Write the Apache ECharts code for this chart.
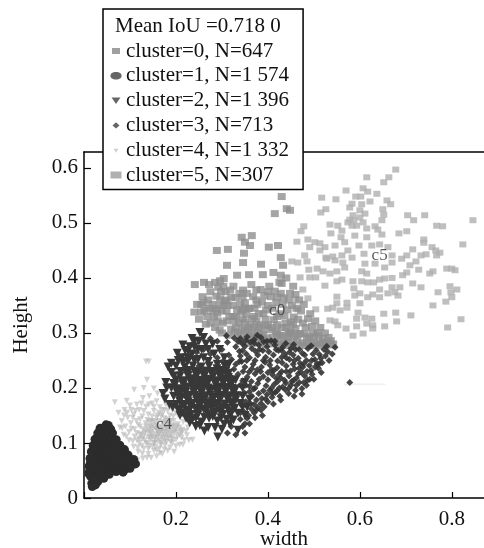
<!DOCTYPE html>
<html>
<head>
<meta charset="utf-8">
<style>html,body{margin:0;padding:0;background:#fff}#c{width:484px;height:548px;filter:blur(0.7px)}</style>
<script src="https://cdn.jsdelivr.net/npm/echarts@6/dist/echarts.min.js"></script>
</head>
<body>
<div id="c"></div>
<script>
const xTickLabels = ['0.2','0.4','0.6','0.8'];
const yTickLabels = ['0','0.1','0.2','0.3','0.4','0.5','0.6'];
const legendTitle = 'Mean IoU =0.718 0';
const clusterNames = ['cluster=0, N=647','cluster=1, N=1 574','cluster=2, N=1 396','cluster=3, N=713','cluster=4, N=1 332','cluster=5, N=307'];
const centroids = [['c0',.42,.341],['c2',.285,.195],['c4',.174,.134],['c5',.643,.441]];
const faintLine = [[.565,.207],[.655,.207]];

const cluster5 = [[.678,.597],[.615,.583],[.663,.583],[.652,.574],[.607,.563],[.570,.559],[.617,.557],[.637,.553],[.517,.546],[.548,.543],[.591,.548],[.602,.548],[.622,.539],[.659,.541],[.667,.534],[.583,.535],[.604,.534],[.578,.528],[.526,.525],[.515,.519],[.65,.525],[.652,.515],[.611,.517],[.6,.523],[.704,.514],[.741,.514],[.717,.505],[.846,.505],[.585,.514],[.578,.506],[.574,.501],[.587,.505],[.6,.51],[.607,.501],[.583,.495],[.593,.495],[.648,.505],[.535,.497],[.552,.495],[.478,.494],[.472,.485],[.537,.481],[.561,.486],[.615,.49],[.633,.494],[.639,.488],[.648,.479],[.589,.477],[.615,.474],[.559,.474],[.685,.481],[.702,.485],[.767,.495],[.78,.494],[.739,.47],[.739,.464],[.824,.461],[.463,.466],[.487,.47],[.502,.465],[.491,.456],[.513,.463],[.524,.456],[.546,.459],[.567,.465],[.574,.45],[.598,.459],[.626,.459],[.643,.461],[.661,.456],[.715,.452],[.757,.456],[.774,.446],[.765,.45],[.561,.441],[.541,.439],[.526,.437],[.513,.45],[.48,.441],[.609,.444],[.67,.441],[.702,.441],[.733,.441],[.744,.443],[.767,.441],
[.452,.43],[.465,.428],[.485,.43],[.489,.415],[.507,.417],[.52,.412],[.535,.408],[.55,.412],[.47,.401],[.491,.401],[.504,.401],[.567,.419],[.528,.435],[.546,.432],[.563,.428],[.604,.412],[.615,.408],[.611,.426],[.583,.437],[.633,.426],[.654,.419],[.67,.428],[.691,.435],[.709,.423],[.702,.41],[.722,.43],[.728,.415],[.752,.408],[.759,.412],[.789,.417],[.8,.417],[.807,.414],[.524,.386],[.55,.394],[.561,.397],[.585,.394],[.604,.394],[.617,.392],[.63,.392],[.643,.397],[.654,.399],[.67,.4],[.693,.405],[.715,.39],[.733,.383],[.67,.383],[.687,.383],[.643,.379],[.587,.381],[.6,.372],[.589,.368],[.55,.366],[.628,.37],[.661,.372],[.676,.374],[.683,.368],[.476,.379],[.459,.361],[.487,.363],[.55,.354],[.572,.355],[.643,.365],[.617,.365],[.6,.354],[.541,.346],[.53,.344],[.557,.341],[.572,.346],[.465,.343],[.504,.343],[.596,.337],[.652,.335],[.678,.337],[.711,.332],[.77,.374],[.796,.385],[.811,.379],[.798,.374],[.8,.365],[.787,.357],[.759,.35],[.82,.325],[.791,.31],[.535,.323],[.546,.321],[.593,.326],[.611,.328],[.626,.326],[.615,.317],[.628,.314],[.593,.312],[.57,.308],[.552,.314],[.654,.312],[.68,.321],[.585,.295],[.607,.299],[.628,.308]];

const cluster0 = [[.343,.474],[.365,.477],[.35,.465],[.361,.459],[.289,.45],[.313,.452],[.402,.456],[.422,.459],[.348,.445],[.346,.428],[.311,.423],[.385,.425],[.428,.437],[.433,.423],[.333,.405],[.359,.406],[.389,.406],[.241,.388],[.261,.392],[.272,.388],[.285,.392],[.296,.395],[.304,.399],[.43,.548],[.415,.517],[.441,.526],[.448,.523],[.412,.41],[.428,.405],[.44,.4],[.455,.385],[.43,.39],
[.246,.352],[.258,.366],[.262,.341],[.275,.375],[.279,.352],[.283,.329],[.292,.383],[.296,.362],[.299,.34],[.302,.318],[.308,.375],[.312,.351],[.316,.33],[.32,.307],[.325,.385],[.329,.364],[.333,.342],[.337,.318],[.341,.296],[.346,.378],[.35,.355],[.353,.333],[.357,.31],[.361,.29],[.364,.388],[.368,.366],[.371,.345],[.375,.322],[.379,.3],[.384,.379],[.387,.356],[.39,.335],[.394,.313],[.398,.291],[.403,.385],[.406,.366],[.41,.345],[.413,.324],[.417,.303],[.422,.284],[.425,.392],[.428,.372],[.432,.352],[.436,.331],[.44,.31],[.444,.292],[.448,.372],[.452,.35],[.456,.329],[.46,.308],[.464,.287],[.468,.36],[.472,.34],[.476,.318],[.48,.298],[.484,.282],[.492,.335],[.496,.312],[.5,.293],[.506,.28],[.514,.31],[.52,.29],[.528,.281],[.537,.286],[.47,.299],[.45,.3],[.43,.296],[.41,.292],[.39,.297],[.37,.31],[.35,.32],[.33,.31],[.395,.325],[.42,.315],[.44,.285],[.475,.282],[.5,.283],[.52,.283],[.425,.335],[.4,.35],[.38,.335],[.36,.345],[.34,.352],[.32,.365],[.3,.3],[.31,.34],[.285,.31],[.265,.316],[.25,.325],[.24,.338],
[.255,.352],[.27,.36],[.268,.33],[.288,.367],[.287,.344],[.291,.322],[.303,.385],[.306,.358],[.31,.322],[.318,.378],[.324,.35],[.326,.322],[.328,.302],[.338,.372],[.342,.338],[.345,.308],[.354,.372],[.357,.344],[.366,.326],[.368,.296],[.375,.378],[.377,.352],[.382,.315],[.388,.288],[.392,.368],[.396,.342],[.402,.306],[.405,.284],[.415,.376],[.418,.355],[.42,.33],[.426,.295],[.434,.364],[.438,.318],[.443,.342],[.447,.304],[.455,.316],[.458,.295],[.462,.345],[.466,.325],[.478,.352],[.482,.31],[.487,.326],[.49,.29],[.498,.3],[.503,.322],[.51,.295],[.516,.282],[.524,.3],[.532,.292],[.542,.28],[.455,.283],[.435,.282],[.415,.283],[.395,.284],[.375,.29],[.355,.297],[.335,.3],[.315,.296],[.295,.305],[.275,.318],[.41,.31],[.43,.31],[.45,.32],[.385,.302],[.365,.302],[.345,.325],[.37,.33],[.35,.345],[.33,.33],[.295,.35],[.28,.34],[.26,.355],
[.34,.285],[.352,.283],[.366,.281],[.38,.283],[.392,.28],[.408,.28],[.424,.278],[.438,.277],[.452,.277],[.468,.277],[.482,.277],[.496,.277],[.51,.277],[.524,.278],[.538,.278],[.35,.305],[.362,.315],[.38,.31],[.4,.315],[.42,.298],[.445,.298],[.465,.298],[.485,.293],[.508,.3],[.255,.338],[.272,.345],[.29,.336],[.305,.35],[.325,.33],[.345,.342],[.375,.36],[.4,.375],[.42,.365],[.445,.36],[.46,.37],[.345,.365],[.31,.36],[.298,.375]];

const cluster1 = [[.017,.027],[.03,.03],[.014,.04],[.027,.042],[.04,.04],[.013,.052],[.026,.051],[.039,.053],[.052,.05],[.066,.056],[.08,.054],[.091,.053],[.014,.064],[.027,.063],[.04,.066],[.054,.063],[.068,.065],[.082,.066],[.096,.063],[.106,.066],[.018,.076],[.031,.078],[.045,.075],[.058,.077],[.072,.076],[.086,.077],[.021,.088],[.034,.087],[.047,.09],[.06,.087],[.073,.088],[.024,.1],[.037,.101],[.05,.099],[.063,.1],[.03,.112],[.043,.111],[.055,.113],[.04,.123],[.052,.126],[.053,.132],
[.01,.045],[.011,.058],[.013,.072],[.016,.084],[.02,.095],[.024,.107],[.03,.118],[.035,.127],[.048,.133],[.062,.118],[.07,.106],[.078,.096],[.088,.088],[.096,.078],[.108,.07],[.112,.062],[.1,.054],[.085,.047],[.07,.048],[.055,.043],[.043,.036],[.025,.024],[.018,.021],[.058,.125],[.082,.085],[.032,.047],[.046,.058],[.06,.07],[.075,.07],[.09,.07],[.038,.082],[.052,.083],[.066,.082],[.044,.095],[.057,.094],[.036,.06],[.022,.07]];

const cluster4 = [[.135,.248],[.141,.248],[.067,.174],[.093,.177],[.109,.197],[.13,.2],[.137,.215],[.152,.199],[.075,.155],[.088,.16],[.1,.168],[.115,.17],[.128,.182],[.142,.185],[.16,.19],[.172,.182],[.082,.14],[.095,.146],[.108,.152],[.12,.16],[.135,.166],[.148,.172],[.158,.176],[.078,.128],[.09,.13],[.102,.136],[.114,.14],[.127,.148],[.14,.152],[.152,.158],[.165,.165],[.178,.17],[.086,.115],[.098,.12],[.11,.125],[.122,.13],[.134,.136],[.146,.14],[.158,.146],[.17,.152],[.182,.158],[.192,.16],[.098,.105],[.11,.112],[.122,.116],[.134,.122],[.146,.128],[.158,.132],[.17,.138],[.182,.143],[.194,.148],[.205,.15],[.108,.093],[.12,.1],[.132,.105],[.144,.11],[.156,.116],[.168,.12],[.18,.126],[.192,.13],[.204,.134],[.216,.138],[.118,.084],[.13,.09],[.142,.095],[.154,.1],[.166,.105],[.178,.11],[.19,.116],[.202,.12],[.214,.124],[.226,.128],[.116,.068],[.128,.072],[.14,.08],[.152,.086],[.164,.09],[.176,.096],[.188,.102],[.2,.106],[.212,.11],[.224,.114],[.236,.106],[.146,.073],[.158,.076],[.17,.08],[.182,.086],[.196,.084],[.208,.097],[.15,.124],[.16,.122],[.17,.127],[.18,.118],[.19,.122],[.2,.127],[.16,.11],[.175,.115],[.14,.118],[.165,.13],[.185,.135],[.155,.138],[.175,.145],[.145,.105],[.195,.14],
[.083,.127],[.092,.112],[.103,.126],[.106,.103],[.115,.118],[.117,.092],[.126,.107],[.127,.081],[.138,.099],[.137,.073],[.147,.116],[.149,.094],[.153,.107],[.158,.087],[.163,.118],[.167,.097],[.172,.109],[.176,.123],[.179,.102],[.184,.113],[.187,.129],[.193,.107],[.197,.123],[.203,.112],[.208,.128],[.213,.118],[.218,.105],[.222,.122],[.143,.13],[.148,.148],[.138,.142],[.128,.125],[.118,.133],[.106,.146],[.094,.155],[.152,.166],[.163,.155],[.175,.16],[.187,.15],[.199,.155],[.168,.148],[.18,.135],[.162,.14],[.15,.132],[.14,.11],[.132,.118],[.122,.143],[.112,.158],[.13,.158],[.141,.17],[.125,.172],[.103,.16],[.087,.15],[.175,.088],[.187,.092],[.2,.094],[.215,.097],[.228,.105],[.165,.082],[.155,.093],[.14,.089],
[.148,.112],[.155,.127],[.162,.115],[.168,.112],[.172,.12],[.178,.13],[.184,.122],[.19,.11],[.196,.118],[.202,.13],[.208,.115],[.152,.1],[.16,.103],[.168,.1],[.176,.104],[.184,.108],[.192,.1],[.15,.14],[.158,.125],[.165,.124],[.172,.135],[.18,.14],[.188,.14],[.195,.132],[.21,.122],[.145,.12],[.155,.11],[.14,.125],[.135,.13],[.125,.115],[.13,.112],[.135,.1],[.12,.108],[.126,.095],[.115,.105],[.142,.138],[.16,.15],[.17,.16],[.185,.165]];

const cluster2 = [[.235,.142],[.255,.138],[.272,.145],[.29,.14],[.31,.143],[.215,.155],[.232,.152],[.25,.157],[.268,.153],[.285,.156],[.302,.152],[.32,.157],[.335,.154],[.2,.17],[.218,.168],[.236,.172],[.253,.169],[.27,.173],[.288,.168],[.305,.171],[.322,.169],[.34,.172],[.195,.185],[.212,.183],[.23,.187],[.247,.184],[.265,.186],[.282,.183],[.3,.187],[.316,.185],[.333,.186],[.19,.2],[.207,.198],[.225,.202],[.243,.199],[.26,.201],[.277,.198],[.295,.202],[.312,.2],[.33,.198],[.2,.215],[.218,.213],[.236,.217],[.254,.214],[.272,.216],[.29,.213],[.306,.217],[.322,.212],[.21,.23],[.228,.232],[.246,.228],[.264,.231],[.28,.229],[.298,.232],[.315,.227],[.203,.263],[.183,.238],[.22,.268],[.172,.19],[.252,.301],[.291,.111],[.335,.123],[.252,.132],[.27,.128],[.193,.165],[.209,.15],[.23,.137],[.317,.135],[.226,.268],[.24,.25],[.26,.255],[.215,.247],[.195,.222],[.178,.21],[.3,.125],[.35,.15],[.355,.165],[.36,.18],[.345,.2],[.24,.285],[.265,.28],
[.19,.228],[.2,.24],[.212,.255],[.225,.248],[.235,.262],[.248,.252],[.256,.27],[.27,.248],[.283,.262],[.29,.243],[.305,.255],[.215,.278],[.235,.29],[.26,.292],[.195,.208],[.18,.2],[.176,.18],[.186,.17],[.205,.16],[.222,.145],[.243,.13],[.262,.122],[.285,.128],[.305,.134],[.325,.142],[.345,.165],[.345,.185],[.35,.21],[.33,.215],[.315,.243],[.24,.208],[.265,.208],[.29,.192],[.255,.177],[.28,.165],[.245,.162],[.225,.178],[.21,.192],
[.225,.148],[.243,.145],[.262,.147],[.28,.148],[.298,.146],[.318,.15],[.208,.162],[.224,.16],[.242,.163],[.26,.162],[.277,.163],[.294,.16],[.312,.163],[.328,.163],[.208,.176],[.227,.175],[.245,.178],[.262,.178],[.279,.176],[.296,.178],[.313,.178],[.33,.178],[.203,.191],[.221,.192],[.238,.193],[.256,.191],[.273,.193],[.29,.19],[.308,.193],[.325,.192],[.198,.206],[.216,.206],[.234,.208],[.252,.206],[.269,.208],[.286,.207],[.303,.208],[.32,.205],[.209,.222],[.227,.223],[.245,.222],[.263,.223],[.281,.221],[.298,.223],[.314,.219],[.219,.238],[.237,.24],[.255,.238],[.272,.24],[.289,.235],[.306,.24],[.23,.255],[.248,.27],[.27,.27],[.205,.25],[.19,.245],[.295,.27],[.28,.28],[.25,.285],[.225,.255],
[.228,.158],[.247,.15],[.266,.16],[.283,.152],[.3,.164],[.316,.157],[.214,.17],[.233,.166],[.25,.173],[.268,.167],[.286,.172],[.303,.165],[.32,.174],[.206,.184],[.224,.181],[.241,.187],[.259,.182],[.276,.187],[.293,.183],[.31,.186],[.328,.185],[.2,.198],[.218,.197],[.236,.201],[.253,.196],[.27,.2],[.288,.197],[.305,.201],[.322,.199],[.212,.212],[.23,.214],[.248,.211],[.266,.215],[.283,.212],[.3,.215],[.316,.211],[.222,.228],[.24,.23],[.258,.226],[.275,.23],[.292,.227],[.308,.23],[.24,.275],[.23,.275]];

const cluster3 = [[.578,.21],[.426,.185],[.34,.29],[.355,.293],[.37,.288],[.385,.292],[.33,.275],[.35,.276],[.365,.272],[.38,.278],[.398,.275],[.415,.278],[.432,.274],[.45,.272],[.468,.27],[.487,.272],[.505,.268],[.522,.27],[.54,.262],[.3,.27],[.315,.26],[.34,.258],[.36,.255],[.378,.26],[.395,.256],[.412,.26],[.43,.256],[.447,.252],[.466,.254],[.484,.25],[.502,.252],[.518,.246],[.533,.25],[.29,.255],[.31,.24],[.33,.243],[.35,.238],[.368,.243],[.386,.238],[.404,.242],[.42,.237],[.44,.24],[.458,.235],[.476,.238],[.494,.232],[.51,.236],[.335,.225],[.355,.22],[.372,.226],[.39,.221],[.41,.224],[.428,.218],[.446,.222],[.462,.218],[.48,.222],[.496,.225],[.34,.205],[.36,.203],[.378,.208],[.396,.204],[.414,.207],[.432,.202],[.45,.205],[.468,.21],[.484,.205],[.365,.185],[.38,.19],[.398,.188],[.416,.192],[.445,.19],[.46,.196],[.37,.17],[.385,.172],[.4,.175],[.42,.195],[.355,.145],[.37,.155],[.385,.16],[.345,.13],[.36,.135],[.35,.118],[.32,.13],[.275,.29],[.29,.285],[.31,.295],[.26,.27],[.275,.262],[.245,.265],[.25,.24],[.32,.22],[.43,.23],[.47,.245],[.4,.215],[.455,.26],
[.312,.283],[.327,.291],[.344,.281],[.362,.283],[.377,.296],[.391,.284],[.407,.286],[.423,.268],[.439,.281],[.456,.279],[.475,.263],[.494,.277],[.512,.261],[.528,.276],[.546,.274],[.338,.267],[.353,.262],[.373,.267],[.389,.268],[.405,.25],[.421,.249],[.437,.262],[.455,.243],[.473,.228],[.49,.241],[.507,.244],[.525,.258],[.302,.248],[.321,.252],[.343,.248],[.359,.229],[.377,.233],[.394,.247],[.413,.232],[.431,.246],[.449,.231],[.466,.226],[.486,.214],[.503,.238],[.516,.228],[.326,.234],[.345,.213],[.364,.212],[.381,.216],[.404,.196],[.421,.212],[.439,.209],[.456,.214],[.474,.199],[.491,.216],[.349,.191],[.369,.198],[.387,.181],[.409,.183],[.428,.178],[.438,.197],[.457,.185],[.474,.189],[.352,.175],[.364,.162],[.378,.165],[.392,.166],[.412,.171],[.346,.158],[.358,.15],[.372,.146],[.388,.15],[.34,.143],[.33,.115],[.312,.118],[.322,.146],
[.335,.285],[.352,.287],[.37,.282],[.398,.285],[.415,.285],[.43,.268],[.447,.265],[.46,.27],[.48,.26],[.498,.262],[.515,.254],[.53,.266],[.345,.268],[.382,.27],[.402,.266],[.418,.27],[.44,.255],[.458,.25],[.478,.244],[.495,.25],[.512,.244],[.338,.248],[.354,.25],[.372,.25],[.39,.25],[.408,.233],[.425,.225],[.44,.23],[.468,.236],[.485,.23],[.5,.216],[.346,.23],[.365,.235],[.384,.23],[.4,.228],[.418,.218],[.436,.214],[.452,.212],[.478,.21],[.352,.205],[.372,.2],[.39,.195],[.408,.2],[.425,.2],[.446,.2],[.462,.205],[.36,.193],[.375,.178],[.395,.18],[.41,.19],[.362,.172],[.375,.16],[.35,.135],[.34,.155]];

// Legend icons: the outer move points set the box each glyph is scaled into.
const frame = 'M0,0L0,0M14,14L14,14';
const icons = [
  'path://' + frame + 'M3,4H11V10H3Z',
  'path://' + frame + 'M2.5,4.5C5,2.8 9,2.8 11.5,4.5C13,6 13,8 11.5,9.5C9,11.2 5,11.2 2.5,9.5C1,8 1,6 2.5,4.5Z',
  'path://' + frame + 'M2.5,4H11.5L7,10.5Z',
  'path://' + frame + 'M7,3.8L10.5,7L7,10.2L3.5,7Z',
  'path://' + frame + 'M4.5,5.5H9.5L7,9.5Z',
  'path://' + frame + 'M1.5,3.5H12.5V10.5H1.5Z'
];
const iconColors = ['#a0a0a0','#666','#666','#666','#d0d0d0','#b0b0b0'];
const downTriangle = 'path://M0,0H10L5,10Z';

function scatter(i, data, symbol, size, color, opacity, z) {
  return { name: clusterNames[i], type: 'scatter', data, symbol, symbolSize: size, z,
    clip: true, silent: true, itemStyle: { color, opacity } };
}
const font = '"Liberation Serif","Times New Roman",serif';

const chart = echarts.init(document.getElementById('c'), null, { renderer: 'canvas' });
chart.setOption({
  animation: false,
  backgroundColor: '#fff',
  grid: { left: 84, right: 0, top: 152, bottom: 50, outerBoundsMode: 'none' },
  title: { text: legendTitle, left: 115, top: 16, textStyle: { fontFamily: font, fontSize: 21, fontWeight: 'normal', color: '#111' }, padding: 0, z: 20 },
  legend: {
    orient: 'vertical', left: 103, top: 9, z: 10,
    padding: [31.5, 14, 4, 6], itemGap: 3.8, itemWidth: 14, itemHeight: 14,
    backgroundColor: '#fff', borderColor: '#000', borderWidth: 1.5, symbolRotate: 0,
    textStyle: { fontFamily: font, fontSize: 21, color: '#111', padding: [0, 0, 0, -2] },
    data: clusterNames.map((name, i) => ({ name, icon: icons[i], itemStyle: { color: iconColors[i], opacity: 1 } }))
  },
  xAxis: [{
    type: 'value', min: 0, max: 0.87, interval: 0.2, splitLine: { show: false },
    axisLine: { lineStyle: { color: '#000', width: 1.5 } },
    axisTick: { inside: true, length: 6, lineStyle: { color: '#000', width: 1.2 } },
    axisLabel: { margin: 11, color: '#111', fontFamily: font, fontSize: 21, showMaxLabel: false,
      formatter: v => { const s = String(+v.toFixed(1)); return xTickLabels.includes(s) && Math.abs(v - +s) < 1e-6 ? s : ''; } },
    name: 'width', nameLocation: 'middle', nameGap: 31, nameMoveOverlap: false,
    nameTextStyle: { color: '#111', fontFamily: font, fontSize: 21 }
  }, {
    type: 'value', position: 'top', min: 0, max: 0.87, show: true,
    axisLine: { onZero: false, lineStyle: { color: '#000', width: 1.5 } },
    axisTick: { show: false }, axisLabel: { show: false }, splitLine: { show: false }
  }],
  yAxis: {
    type: 'value', min: 0, max: 0.629, interval: 0.1, splitLine: { show: false },
    axisLine: { lineStyle: { color: '#000', width: 1.5 } },
    axisTick: { inside: true, length: 7, lineStyle: { color: '#000', width: 1.2 } },
    axisLabel: { margin: 6, color: '#111', fontFamily: font, fontSize: 21, showMaxLabel: false,
      formatter: v => { const s = String(+v.toFixed(1)); return yTickLabels.includes(s) && Math.abs(v - +s) < 1e-6 ? s : ''; } },
    name: 'Height', nameLocation: 'middle', nameGap: 52, nameRotate: 90, nameMoveOverlap: false,
    nameTextStyle: { color: '#111', fontFamily: font, fontSize: 21 }
  },
  series: [
    scatter(5, cluster5, 'rect', [7, 6], '#afafaf', 0.8, 2),
    scatter(4, cluster4, downTriangle, 6, '#b4b4b4', 0.6, 3),
    scatter(0, cluster0, 'rect', [8, 7], '#8e8e8e', 0.8, 4),
    scatter(3, cluster3, 'diamond', 7, '#333', 0.9, 5),
    scatter(2, cluster2, downTriangle, 9, '#383838', 1, 6),
    scatter(1, cluster1, 'circle', 9, '#2c2c2c', 1, 7),
    { type: 'line', data: faintLine, symbol: 'none', silent: true, z: 2, lineStyle: { color: '#e6e6e6', width: 1 } },
    { type: 'scatter', data: centroids.map(c => [c[1], c[2], c[0]]), symbolSize: 0, silent: true, z: 9,
      label: { show: true, position: 'inside', formatter: p => p.value[2], color: '#333', fontFamily: font, fontSize: 17 } }
  ]
});
</script>
</body>
</html>
